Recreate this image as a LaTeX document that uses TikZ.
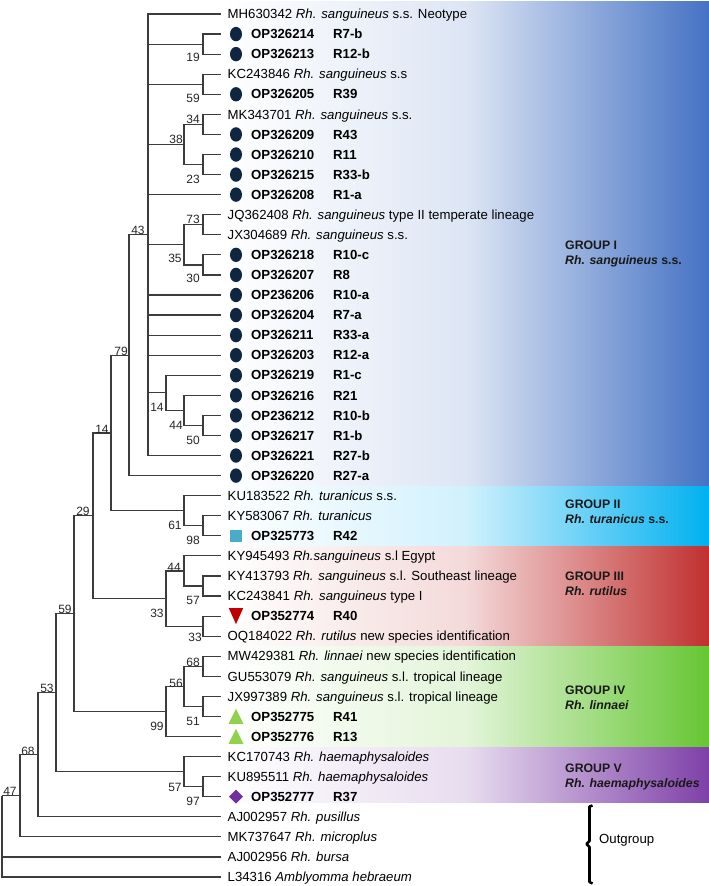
\documentclass[tikz,border=0pt]{standalone}
\usepackage{fontspec}
\setmainfont{Liberation Sans}
\usetikzlibrary{shapes.geometric}
\definecolor{treegray}{HTML}{3C3C3C}
\definecolor{navy}{HTML}{10253F}
\definecolor{tealm}{HTML}{4BACC6}
\definecolor{redm}{HTML}{C00000}
\definecolor{grnm}{HTML}{92D050}
\definecolor{purm}{HTML}{7030A0}
\definecolor{gI}{HTML}{4472C4}
\definecolor{gII}{HTML}{00B0F0}
\definecolor{gIII}{HTML}{C0302F}
\definecolor{gIV}{HTML}{66C633}
\definecolor{gV}{HTML}{7E40A8}
\tikzset{
  br/.style={draw=treegray, line width=1.2pt},
  lab/.style={font=\fontsize{13.2}{15}\selectfont, anchor=base west, inner sep=0pt},
  acc/.style={font=\fontsize{13.2}{15}\selectfont\bfseries, anchor=base west, inner sep=0pt},
  bs/.style={font=\fontsize{12}{14}\selectfont, inner sep=0pt, text=black!85},
  grp/.style={font=\fontsize{12.3}{15}\selectfont\bfseries, anchor=base west, inner sep=0pt, text=black!90},
  mkell/.pic={\fill[navy] (0,0) ellipse [x radius=6pt, y radius=7.2pt];},
  mksq/.pic={\fill[tealm] (-6.3,-6.3) rectangle (6.3,6.3);},
  mkdown/.pic={\fill[redm] (-7.2,-8) -- (7.2,-8) -- (0,8) -- cycle;},
  mkup/.pic={\fill[grnm] (-7.5,7.3) -- (7.5,7.3) -- (0,-7.7) -- cycle;},
  mkdia/.pic={\fill[purm] (-7,0) -- (0,-7) -- (7,0) -- (0,7) -- cycle;},
}
\newcommand\RefL[3]{%
  \coordinate (t#1) at (221,#2);
  \node[lab] (l#1) at (227.5,#2+4.7) {#3};}
\newcommand\Smp[5]{%
  \coordinate (t#1) at (221,#2);
  \coordinate (m#1) at (236,#2);
  \pic at (m#1) {#3};
  \node[acc] (a#1) at (251,#2+4.7) {#4};
  \node[acc] (r#1) at (333,#2+4.7) {#5};}
\newcommand\GrpL[4]{%
  \node[grp] (g#1) at (565,#2) {#3};
  \node[grp] (g#1b) at (565,#2+15) {#4};}
\begin{document}
\begin{tikzpicture}[x=1pt,y=-1pt]
\useasboundingbox (0,0) rectangle (709,886);
% group boxes
\shade[left color=white,right color=gI,middle color=gI!18!white] (222,1) rectangle (709,485.1);
\shade[left color=white,right color=gII,middle color=gII!18!white] (222,486.1) rectangle (709,545.4);
\shade[left color=white,right color=gIII,middle color=gIII!18!white] (222,546.4) rectangle (709,645.7);
\shade[left color=white,right color=gIV,middle color=gIV!18!white] (222,646.7) rectangle (709,746.1);
\shade[left color=white,right color=gV,middle color=gV!18!white] (222,747.1) rectangle (709,802.5);
% leaves
\RefL{1}{14.0}{MH630342 \textit{Rh. sanguineus} s.s. Neotype}
\Smp{2}{34.07}{mkell}{OP326214}{R7-b}
\Smp{3}{54.14}{mkell}{OP326213}{R12-b}
\RefL{4}{74.21}{KC243846 \textit{Rh. sanguineus} s.s}
\Smp{5}{94.28}{mkell}{OP326205}{R39}
\RefL{6}{114.35}{MK343701 \textit{Rh. sanguineus} s.s.}
\Smp{7}{134.42}{mkell}{OP326209}{R43}
\Smp{8}{154.49}{mkell}{OP326210}{R11}
\Smp{9}{174.56}{mkell}{OP326215}{R33-b}
\Smp{10}{194.63}{mkell}{OP326208}{R1-a}
\RefL{11}{214.70}{JQ362408 \textit{Rh. sanguineus} type II temperate lineage}
\RefL{12}{234.77}{JX304689 \textit{Rh. sanguineus} s.s.}
\Smp{13}{254.84}{mkell}{OP326218}{R10-c}
\Smp{14}{274.91}{mkell}{OP326207}{R8}
\Smp{15}{294.98}{mkell}{OP236206}{R10-a}
\Smp{16}{315.05}{mkell}{OP326204}{R7-a}
\Smp{17}{335.12}{mkell}{OP326211}{R33-a}
\Smp{18}{355.19}{mkell}{OP326203}{R12-a}
\Smp{19}{375.26}{mkell}{OP326219}{R1-c}
\Smp{20}{395.33}{mkell}{OP326216}{R21}
\Smp{21}{415.40}{mkell}{OP236212}{R10-b}
\Smp{22}{435.47}{mkell}{OP326217}{R1-b}
\Smp{23}{455.54}{mkell}{OP326221}{R27-b}
\Smp{24}{475.61}{mkell}{OP326220}{R27-a}
\RefL{25}{495.68}{KU183522 \textit{Rh. turanicus} s.s.}
\RefL{26}{515.75}{KY583067 \textit{Rh. turanicus}}
\Smp{27}{535.82}{mksq}{OP325773}{R42}
\RefL{28}{555.89}{KY945493 \textit{Rh.sanguineus} s.l Egypt}
\RefL{29}{575.96}{KY413793 \textit{Rh. sanguineus} s.l. Southeast lineage}
\RefL{30}{596.03}{KC243841 \textit{Rh. sanguineus} type I}
\Smp{31}{616.10}{mkdown}{OP352774}{R40}
\RefL{32}{636.17}{OQ184022 \textit{Rh. rutilus} new species identification}
\RefL{33}{656.24}{MW429381 \textit{Rh. linnaei} new species identification}
\RefL{34}{676.31}{GU553079 \textit{Rh. sanguineus} s.l. tropical lineage}
\RefL{35}{696.38}{JX997389 \textit{Rh. sanguineus} s.l. tropical lineage}
\Smp{36}{716.45}{mkup}{OP352775}{R41}
\Smp{37}{736.52}{mkup}{OP352776}{R13}
\RefL{38}{756.59}{KC170743 \textit{Rh. haemaphysaloides}}
\RefL{39}{776.66}{KU895511 \textit{Rh. haemaphysaloides}}
\Smp{40}{796.73}{mkdia}{OP352777}{R37}
\RefL{41}{816.80}{AJ002957 \textit{Rh. pusillus}}
\RefL{42}{836.87}{MK737647 \textit{Rh. microplus}}
\RefL{43}{856.94}{AJ002956 \textit{Rh. bursa}}
\RefL{44}{877.01}{L34316 \textit{Amblyomma hebraeum}}
% internal nodes
\coordinate (n19) at (203,44.1);
\coordinate (n59a) at (203,84.2);
\coordinate (n34) at (203,124.4);
\coordinate (n23) at (203,164.5);
\coordinate (n38) at (184,144.5);
\coordinate (n73) at (203,224.7);
\coordinate (n30) at (203,264.9);
\coordinate (n35) at (184,244.8);
\coordinate (n50) at (203,425.4);
\coordinate (n44a) at (184,410.4);
\coordinate (n14a) at (166,392.8);
\coordinate (nG1) at (148,234.8);
\coordinate (n43) at (129,355.2);
\coordinate (n98) at (203,525.8);
\coordinate (n61) at (184,510.7);
\coordinate (n79) at (111,433.0);
\coordinate (n57) at (203,586.0);
\coordinate (n44b) at (184,571.0);
\coordinate (n33b) at (203,626.1);
\coordinate (n33a) at (166,598.6);
\coordinate (n14b) at (93,515.8);
\coordinate (n68a) at (203,666.3);
\coordinate (n51) at (203,706.4);
\coordinate (n56) at (184,686.4);
\coordinate (n99) at (166,711.4);
\coordinate (n29) at (74,613.6);
\coordinate (n97) at (203,786.7);
\coordinate (n57b) at (184,771.6);
\coordinate (n59b) at (56,692.6);
\coordinate (n53) at (38,754.7);
\coordinate (n68b) at (20,795.8);
\coordinate (n47) at (2,795.8);
% branches
\foreach \c in {t1,n19,n59a,n38,t10,n35,t15,t16,t17,t18,n14a,t23} \draw[br] (nG1) |- (\c);
\draw[br] (n19) |- (t2); \draw[br] (n19) |- (t3);
\draw[br] (n59a) |- (t4); \draw[br] (n59a) |- (t5);
\draw[br] (n38) |- (n34); \draw[br] (n38) |- (n23);
\draw[br] (n34) |- (t6); \draw[br] (n34) |- (t7);
\draw[br] (n23) |- (t8); \draw[br] (n23) |- (t9);
\draw[br] (n35) |- (n73); \draw[br] (n35) |- (n30);
\draw[br] (n73) |- (t11); \draw[br] (n73) |- (t12);
\draw[br] (n30) |- (t13); \draw[br] (n30) |- (t14);
\draw[br] (n14a) |- (t19); \draw[br] (n14a) |- (n44a);
\draw[br] (n44a) |- (t20); \draw[br] (n44a) |- (n50);
\draw[br] (n50) |- (t21); \draw[br] (n50) |- (t22);
\draw[br] (n43) |- (nG1); \draw[br] (n43) |- (t24);
\draw[br] (n79) |- (n43); \draw[br] (n79) |- (n61);
\draw[br] (n61) |- (t25); \draw[br] (n61) |- (n98);
\draw[br] (n98) |- (t26); \draw[br] (n98) |- (t27);
\draw[br] (n14b) |- (n79); \draw[br] (n14b) |- (n33a);
\draw[br] (n33a) |- (n44b); \draw[br] (n33a) |- (n33b);
\draw[br] (n44b) |- (t28); \draw[br] (n44b) |- (n57);
\draw[br] (n57) |- (t29); \draw[br] (n57) |- (t30);
\draw[br] (n33b) |- (t31); \draw[br] (n33b) |- (t32);
\draw[br] (n29) |- (n14b); \draw[br] (n29) |- (n99);
\draw[br] (n99) |- (n56); \draw[br] (n99) |- (t37);
\draw[br] (n56) |- (n68a); \draw[br] (n56) |- (n51);
\draw[br] (n68a) |- (t33); \draw[br] (n68a) |- (t34);
\draw[br] (n51) |- (t35); \draw[br] (n51) |- (t36);
\draw[br] (n59b) |- (n29); \draw[br] (n59b) |- (n57b);
\draw[br] (n57b) |- (t38); \draw[br] (n57b) |- (n97);
\draw[br] (n97) |- (t39); \draw[br] (n97) |- (t40);
\draw[br] (n53) |- (n59b); \draw[br] (n53) |- (t41);
\draw[br] (n68b) |- (n53); \draw[br] (n68b) |- (t42);
\draw[br] (n47) |- (n68b); \draw[br] (n47) |- (t43); \draw[br] (n47) |- (t44);
% bootstrap values
\node[bs] (b19) at (193,57) {19};
\node[bs] (b59a) at (193,98) {59};
\node[bs] (b34) at (193,119) {34};
\node[bs] (b38) at (176,139) {38};
\node[bs] (b23) at (193,179) {23};
\node[bs] (b73) at (193,219) {73};
\node[bs] (b43) at (138,230) {43};
\node[bs] (b35) at (175,258) {35};
\node[bs] (b30) at (193,278) {30};
\node[bs] (b79) at (121,351) {79};
\node[bs] (b14a) at (157,407) {14};
\node[bs] (b44a) at (176,425) {44};
\node[bs] (b50) at (193,440) {50};
\node[bs] (b14b) at (102,429) {14};
\node[bs] (b29) at (83,511) {29};
\node[bs] (b61) at (175,525) {61};
\node[bs] (b98) at (193,540) {98};
\node[bs] (b44b) at (174,567) {44};
\node[bs] (b57) at (193,600) {57};
\node[bs] (b33a) at (157,613) {33};
\node[bs] (b33b) at (195,637) {33};
\node[bs] (b59b) at (65,609) {59};
\node[bs] (b68a) at (193,662) {68};
\node[bs] (b56) at (176,683) {56};
\node[bs] (b53) at (47,688) {53};
\node[bs] (b51) at (193,721) {51};
\node[bs] (b99) at (157,726) {99};
\node[bs] (b68b) at (28,751) {68};
\node[bs] (b57b) at (175,787) {57};
\node[bs] (b97) at (193,801) {97};
\node[bs] (b47) at (10,791) {47};
% group labels
\GrpL{1}{249.3}{GROUP I}{\textit{Rh. sanguineus} s.s.}
\GrpL{2}{508.3}{GROUP II}{\textit{Rh. turanicus} s.s.}
\GrpL{3}{580}{GROUP III}{\textit{Rh. rutilus}}
\GrpL{4}{694.5}{GROUP IV}{\textit{Rh. linnaei}}
\GrpL{5}{772.3}{GROUP V}{\textit{Rh. haemaphysaloides}}
% outgroup
\draw[line width=2.6pt, line join=round] (592.5,805.5) -- (589.5,806.5) -- (589.5,841) -- (586.5,844) -- (589.5,847) -- (589.5,882) -- (592.5,883.5);
\node[lab] (og) at (599,843.7) {Outgroup};
\end{tikzpicture}
\end{document}
